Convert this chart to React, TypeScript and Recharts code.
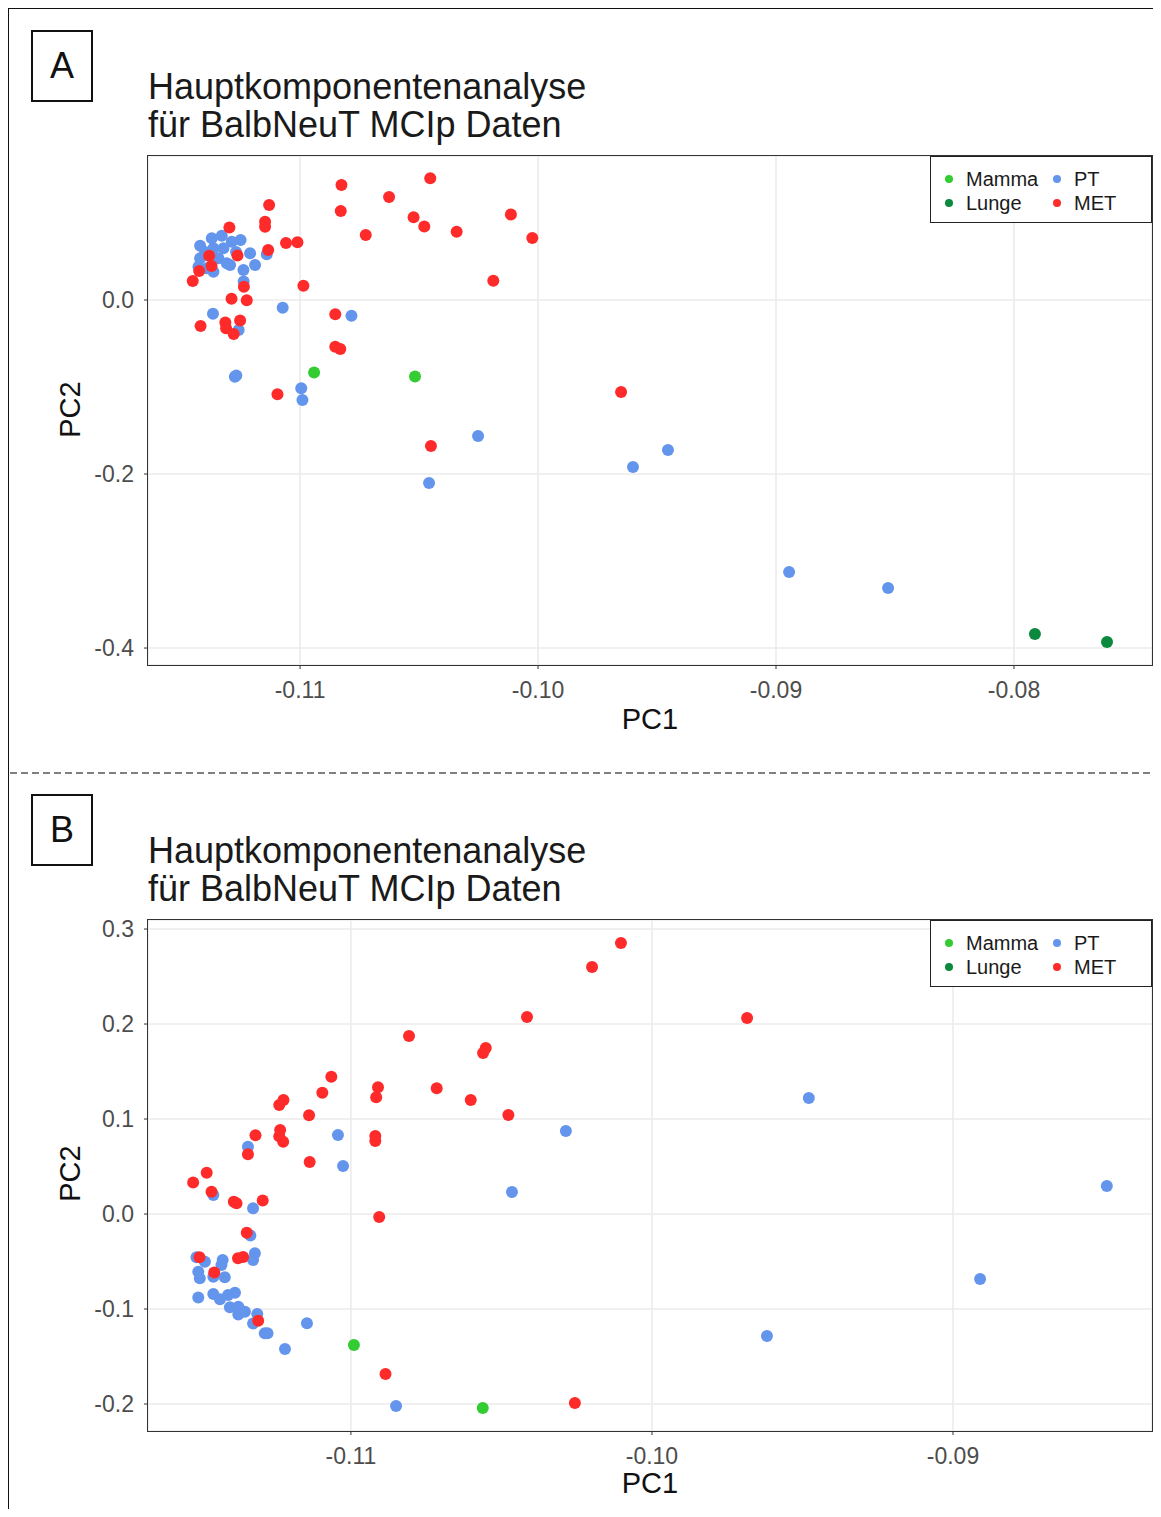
import { ScatterChart, Scatter, XAxis, YAxis, CartesianGrid } from 'recharts';

// ---- panel A (PC1 / PC2 pairs) ----
const ptA = [
  [-0.1142, 0.0624], [-0.11371, 0.0709], [-0.11329, 0.0739], [-0.11287, 0.067], [-0.1125, 0.069],
  [-0.11364, 0.0594], [-0.11322, 0.0594], [-0.1121, 0.0537], [-0.11189, 0.0402], [-0.1142, 0.0479],
  [-0.11427, 0.0383], [-0.11364, 0.0325], [-0.11308, 0.0422], [-0.11343, 0.0479], [-0.11238, 0.0345],
  [-0.11237, 0.0213], [-0.11294, 0.0402], [-0.11392, 0.0364], [-0.1114, 0.0525], [-0.11399, 0.0552],
  [-0.11269, 0.0552], [-0.11073, -0.0089], [-0.10784, -0.0182], [-0.11366, -0.0157], [-0.11258, -0.0345],
  [-0.11274, -0.0882], [-0.11268, -0.0868], [-0.10995, -0.1015], [-0.1099, -0.1149], [-0.10252, -0.1563],
  [-0.10458, -0.2103], [-0.09601, -0.1919], [-0.09454, -0.1724], [-0.08945, -0.3126], [-0.08529, -0.331],
];
const metA = [
  [-0.10826, 0.1322], [-0.10453, 0.1399], [-0.10626, 0.1184], [-0.1113, 0.1092], [-0.10829, 0.1023],
  [-0.10523, 0.0952], [-0.10114, 0.0982], [-0.11297, 0.0833], [-0.11147, 0.09], [-0.11147, 0.0843],
  [-0.10478, 0.0845], [-0.10342, 0.0785], [-0.10724, 0.0747], [-0.10024, 0.0713], [-0.11059, 0.0655],
  [-0.11011, 0.0663], [-0.11134, 0.0575], [-0.11263, 0.0511], [-0.11382, 0.0509], [-0.11372, 0.0391],
  [-0.11424, 0.0333], [-0.11451, 0.0218], [-0.10188, 0.0221], [-0.11236, 0.0152], [-0.10986, 0.0164],
  [-0.11288, 0.0015], [-0.11224, -0.0002], [-0.11418, -0.0299], [-0.11314, -0.0259], [-0.11311, -0.0325],
  [-0.11252, -0.0236], [-0.11279, -0.0391], [-0.10852, -0.0164], [-0.10852, -0.0537], [-0.10831, -0.0563],
  [-0.11095, -0.1084], [-0.09651, -0.1057], [-0.1045, -0.1678],
];
const mammaA = [[-0.10941, -0.0833], [-0.10517, -0.0879]];
const lungeA = [[-0.07912, -0.3839], [-0.07609, -0.3931]];

// ---- panel B ----
const ptB = [
  [-0.11342, 0.0708], [-0.11043, 0.0832], [-0.11026, 0.0505], [-0.10286, 0.0874], [-0.10465, 0.0232],
  [-0.09479, 0.1221], [-0.08489, 0.0295], [-0.0891, -0.0684], [-0.09618, -0.1284], [-0.1085, -0.2021],
  [-0.11457, 0.02], [-0.11325, 0.006], [-0.11334, -0.0226], [-0.11319, -0.0414], [-0.11325, -0.0484],
  [-0.11513, -0.0456], [-0.11485, -0.0502], [-0.11426, -0.0484], [-0.1143, -0.0537], [-0.11507, -0.0607],
  [-0.11502, -0.0677], [-0.11457, -0.066], [-0.11419, -0.0666], [-0.11507, -0.0879], [-0.11457, -0.0842],
  [-0.11435, -0.0898], [-0.11408, -0.0853], [-0.11385, -0.0828], [-0.11402, -0.0982], [-0.11374, -0.0976],
  [-0.11374, -0.1058], [-0.11352, -0.1028], [-0.11311, -0.1053], [-0.11325, -0.1153], [-0.11286, -0.1256],
  [-0.11277, -0.1256], [-0.11219, -0.1421], [-0.11146, -0.115],
];
const metB = [
  [-0.10103, 0.2853], [-0.10199, 0.26], [-0.10415, 0.2074], [-0.09684, 0.2063], [-0.10807, 0.1874],
  [-0.10552, 0.1747], [-0.10561, 0.1695], [-0.11065, 0.1445], [-0.11095, 0.1277], [-0.1091, 0.1334],
  [-0.10916, 0.1228], [-0.10715, 0.1323], [-0.10602, 0.12], [-0.10477, 0.1042], [-0.11224, 0.12],
  [-0.11238, 0.1147], [-0.11139, 0.1039], [-0.11317, 0.0828], [-0.11235, 0.0884], [-0.11238, 0.0818],
  [-0.11225, 0.0761], [-0.10919, 0.0821], [-0.10919, 0.0768], [-0.11342, 0.0628], [-0.11137, 0.0547],
  [-0.11479, 0.0435], [-0.11524, 0.0332], [-0.11463, 0.0235], [-0.11389, 0.0129], [-0.1138, 0.0113],
  [-0.11293, 0.0142], [-0.10906, -0.0032], [-0.11346, -0.0197], [-0.11503, -0.0456], [-0.11454, -0.0616],
  [-0.11375, -0.0466], [-0.11358, -0.0453], [-0.11308, -0.1123], [-0.10885, -0.1684], [-0.10256, -0.1989],
];
const mammaB = [[-0.1099, -0.1379], [-0.10562, -0.2042]];
const lungeB: number[][] = [];

const legendItems = [
  { name: 'Mamma', color: '#33CC33' },
  { name: 'Lunge', color: '#0B8A3E' },
  { name: 'PT', color: '#6495ED' },
  { name: 'MET', color: '#FF2B2B' },
];

const panelA = {
  label: 'A',
  series: [ptA, metA, mammaA, lungeA],
  xDomain: [-0.11639, -0.0742],
  yDomain: [-0.4195, 0.1655],
  xTicks: [-0.11, -0.1, -0.09, -0.08],
  yTicks: [-0.4, -0.2, 0],
  xMinor: [-0.115, -0.105, -0.095, -0.085, -0.075],
  yMinor: [-0.3, -0.1, 0.1],
};
const panelB = {
  label: 'B',
  series: [ptB, metB, mammaB, lungeB],
  xDomain: [-0.11674, -0.08339],
  yDomain: [-0.2284, 0.3095],
  xTicks: [-0.11, -0.1, -0.09],
  yTicks: [-0.2, -0.1, 0, 0.1, 0.2, 0.3],
  xMinor: [-0.115, -0.105, -0.095, -0.085],
  yMinor: [-0.15, -0.05, 0.05, 0.15, 0.25],
};

const seriesColors = ['#6495ED', '#FF2B2B', '#33CC33', '#0B8A3E'];
const font = '"Liberation Sans", Arial, sans-serif';

const Dot = (p: any) => <circle cx={p.cx} cy={p.cy} r={6} fill={p.fill} />;

// plot area spans rows 156..665 of each 765px panel
function Panel({ cfg, top, bottom }: { cfg: typeof panelA; top: number; bottom: number }) {
  const tickStyle = { fill: '#4D4D4D', fontSize: 23, fontFamily: font };
  const plotH = 765 - 156 - bottom - 59;
  return (
    <div style={{ position: 'absolute', left: 0, top, width: 1161, height: 765 }}>
      {/* panel letter */}
      <div style={{ position: 'absolute', left: 31, top: 30, width: 62, height: 72, boxSizing: 'border-box', border: '2px solid #111', fontSize: 36, lineHeight: '68px', textAlign: 'center', color: '#111' }}>
        {cfg.label}
      </div>
      <div style={{ position: 'absolute', left: 148, top: 68, fontSize: 36, lineHeight: '38px', color: '#1a1a1a' }}>
        Hauptkomponentenanalyse<br />für BalbNeuT MCIp Daten
      </div>
      <div style={{ position: 'absolute', top: 0, left: 0 }}>
        <ScatterChart width={1161} height={765} margin={{ top: 156, right: 9, bottom, left: 0 }}>
          <CartesianGrid
            stroke="#F3F3F3"
            strokeWidth={1}
            horizontalCoordinatesGenerator={({ yAxis }: any) =>
              typeof yAxis?.scale === 'function' ? cfg.yMinor.map((v) => yAxis.scale(v)) : []}
            verticalCoordinatesGenerator={({ xAxis }: any) =>
              typeof xAxis?.scale === 'function' ? cfg.xMinor.map((v) => xAxis.scale(v)) : []}
          />
          <CartesianGrid stroke="#EBEBEB" strokeWidth={1.6} />
          <XAxis
            type="number"
            dataKey="x"
            domain={cfg.xDomain}
            allowDataOverflow
            ticks={cfg.xTicks}
            tickFormatter={(v: number) => v.toFixed(2)}
            axisLine={false}
            tickSize={4}
            tickMargin={13}
            tickLine={{ stroke: '#333' }}
            tick={tickStyle}
            height={59}
          />
          <YAxis
            type="number"
            dataKey="y"
            domain={cfg.yDomain}
            allowDataOverflow
            ticks={cfg.yTicks}
            tickFormatter={(v: number) => v.toFixed(1)}
            axisLine={false}
            tickSize={4}
            tickMargin={10}
            tickLine={{ stroke: '#333' }}
            tick={tickStyle}
            width={148}
          />
          {cfg.series.map((s, i) => (
            <Scatter
              key={i}
              data={s.map(([x, y]) => ({ x, y }))}
              fill={seriesColors[i]}
              shape={Dot}
              isAnimationActive={false}
            />
          ))}
        </ScatterChart>
      </div>
      {/* plot border */}
      <div style={{ position: 'absolute', left: 147, top: 155, width: 1006, height: plotH + 2, boxSizing: 'border-box', border: '1.5px solid #333', pointerEvents: 'none' }} />
      {/* legend */}
      <div style={{ position: 'absolute', left: 930, top: 156, width: 222, height: 67, boxSizing: 'border-box', border: '1.5px solid #222', background: '#fff' }}>
        {legendItems.map((it, i) => (
          <div key={it.name} style={{ position: 'absolute', left: i < 2 ? 14 : 122, top: i % 2 === 0 ? 10 : 34, display: 'flex', alignItems: 'center', fontSize: 20, lineHeight: '24px', color: '#1a1a1a' }}>
            <span style={{ width: 8, height: 8, borderRadius: 4, background: it.color, marginRight: 13 }} />
            {it.name}
          </div>
        ))}
      </div>
      <div style={{ position: 'absolute', left: 600, width: 100, top: 703, textAlign: 'center', fontSize: 29, color: '#111' }}>PC1</div>
      <div style={{ position: 'absolute', left: 20, top: 393, width: 100, textAlign: 'center', fontSize: 29, color: '#111', transform: 'rotate(-90deg)' }}>PC2</div>
    </div>
  );
}

export default function App() {
  return (
    <div style={{ position: 'relative', width: 1161, height: 1517, margin: -8, background: '#fff', fontFamily: font, overflow: 'hidden' }}>
      <div style={{ position: 'absolute', left: 7, top: 7, width: 1160, height: 1515, borderTop: '2px solid #111', borderLeft: '2px solid #111' }} />
      <Panel cfg={panelA} top={0} bottom={41} />
      <svg style={{ position: 'absolute', left: 0, top: 765 }} width={1161} height={16}>
        <line x1={10} x2={1161} y1={8} y2={8} stroke="#808080" strokeWidth={2} strokeDasharray="7 4" />
      </svg>
      <Panel cfg={panelB} top={764} bottom={39} />
    </div>
  );
}
